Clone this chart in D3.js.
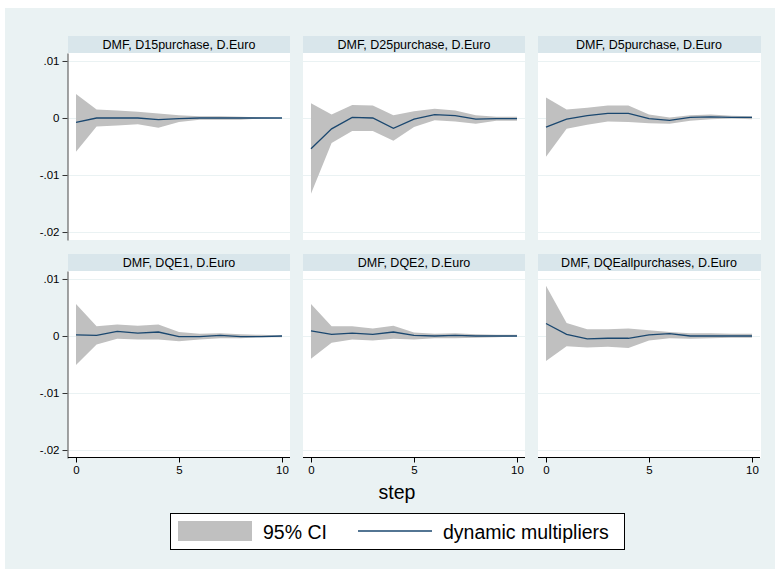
<!DOCTYPE html>
<html>
<head>
<meta charset="utf-8">
<script src="https://cdn.jsdelivr.net/npm/d3@7"></script>
<style>
  body { margin: 0; background: #fff; }
  text { font-family: "Liberation Sans", Arial, sans-serif; fill: #000; }
</style>
</head>
<body>
<div id="chart"></div>
<script>

// steps 0..10
var steps = [0, 1, 2, 3, 4, 5, 6, 7, 8, 9, 10];

var panelTitles = [
  "DMF, D15purchase, D.Euro", "DMF, D25purchase, D.Euro", "DMF, D5purchase, D.Euro",
  "DMF, DQE1, D.Euro", "DMF, DQE2, D.Euro", "DMF, DQEallpurchases, D.Euro"
];

// dynamic multipliers and 95% bounds, one array per panel
var dm_D15  = [-0.00075, 0, 0, 0, -0.0003, -0.0001, 0, 0, 0, 0, 0];
var lo_D15  = [-0.0059, -0.0015, -0.0013, -0.0011, -0.0017, -0.0007, -0.0003, -0.0003, -0.0003, -0.0001, 0];
var hi_D15  = [0.0042, 0.0015, 0.0013, 0.0011, 0.0008, 0.0005, 0.0003, 0.0003, 0.0002, 0.0001, 0];

var dm_D25  = [-0.0054, -0.0019, 0.0001, 0.0000, -0.0018, -0.0002, 0.0006, 0.0004, -0.0002, -0.0001, -0.0001];
var lo_D25  = [-0.0133, -0.0044, -0.0023, -0.0023, -0.0040, -0.0016, -0.0004, -0.0006, -0.0010, -0.0005, -0.0005];
var hi_D25  = [0.0026, 0.0006, 0.0023, 0.0022, 0.0005, 0.0012, 0.0016, 0.0013, 0.0005, 0.0002, 0.0002];

var dm_D5   = [-0.0016, -0.0002, 0.0004, 0.0008, 0.0008, -0.0001, -0.0004, 0.0001, 0.0002, 0.0001, 0.0001];
var lo_D5   = [-0.0068, -0.0019, -0.0012, -0.0006, -0.0007, -0.0009, -0.0010, -0.0005, -0.0002, -0.0001, -0.0002];
var hi_D5   = [0.0036, 0.0015, 0.0018, 0.0022, 0.0022, 0.0006, 0.0001, 0.0005, 0.0006, 0.0004, 0.0003];

var dm_QE1  = [0.0002, 0.0001, 0.0008, 0.0005, 0.0007, -0.0001, -0.0001, 0.0001, -0.0001, -0.0001, 0];
var lo_QE1  = [-0.0051, -0.0015, -0.0005, -0.0006, -0.0006, -0.0009, -0.0006, -0.0004, -0.0004, -0.0002, -0.0002];
var hi_QE1  = [0.0056, 0.0017, 0.0020, 0.0018, 0.0020, 0.0007, 0.0004, 0.0005, 0.0003, 0.0002, 0.0001];

var dm_QE2  = [0.0009, 0.0003, 0.0005, 0.0003, 0.0007, 0.0001, 0, 0.0001, 0, 0, 0];
var lo_QE2  = [-0.0040, -0.0012, -0.0006, -0.0008, -0.0005, -0.0006, -0.0004, -0.0004, -0.0003, -0.0002, -0.0001];
var hi_QE2  = [0.0056, 0.0017, 0.0017, 0.0013, 0.0018, 0.0006, 0.0004, 0.0005, 0.0003, 0.0002, 0.0002];

var dm_QEall = [0.0022, 0.0003, -0.0005, -0.0004, -0.0004, 0.0002, 0.0004, 0, 0, 0, 0];
var lo_QEall = [-0.0044, -0.0018, -0.0020, -0.0019, -0.0021, -0.0008, -0.0004, -0.0005, -0.0004, -0.0003, -0.0003];
var hi_QEall = [0.0088, 0.0023, 0.0012, 0.0012, 0.0013, 0.0010, 0.0007, 0.0005, 0.0005, 0.0004, 0.0004];

var yTicks = [0.01, 0, -0.01, -0.02];
var yTickLabels = [".01", "0", "-.01", "-.02"];
var xTicks = [0, 5, 10];

var panels = [
  {dm: dm_D15, lo: lo_D15, hi: hi_D15},
  {dm: dm_D25, lo: lo_D25, hi: hi_D25},
  {dm: dm_D5, lo: lo_D5, hi: hi_D5},
  {dm: dm_QE1, lo: lo_QE1, hi: hi_QE1},
  {dm: dm_QE2, lo: lo_QE2, hi: hi_QE2},
  {dm: dm_QEall, lo: lo_QEall, hi: hi_QEall}
];

var W = 775, H = 569;
var colX = [68, 303, 538];
var rowY = [36, 254];   // top of the title bar
var pw = 222, barH = 17, ph = 187;

var svg = d3.select("#chart").append("svg")
  .attr("width", W)
  .attr("height", H);

// graph region
svg.append("rect")
  .attr("x", 5).attr("y", 8)
  .attr("width", W - 5).attr("height", H - 8)
  .style("fill", "#eaf2f3");

var x = d3.scaleLinear().domain([0, 10]).range([8, 214]);
var y = d3.scaleLinear().domain([0.0114, -0.0214]).range([0, ph]);

panels.forEach(function(p, i) {
  var col = i % 3, row = Math.floor(i / 3);
  var g = svg.append("g")
    .attr("transform", "translate(" + colX[col] + "," + (rowY[row] + barH) + ")");

  // title bar
  svg.append("rect")
    .attr("x", colX[col]).attr("y", rowY[row])
    .attr("width", pw + (col == 2 ? 1 : 0)).attr("height", barH)
    .style("fill", "#d9e6eb");
  svg.append("text")
    .attr("x", colX[col] + pw / 2).attr("y", rowY[row] + 12.5)
    .attr("text-anchor", "middle")
    .style("font-size", "12.5px")
    .text(panelTitles[i]);

  // plot region
  g.append("rect")
    .attr("width", pw + (col == 2 ? 1 : 0)).attr("height", ph)
    .style("fill", "#fff");

  g.selectAll(".grid")
    .data(yTicks)
    .enter()
    .append("line")
    .attr("class", "grid")
    .attr("x1", 0).attr("x2", pw)
    .attr("y1", function(d) { return Math.round(y(d)) + 0.5; })
    .attr("y2", function(d) { return Math.round(y(d)) + 0.5; })
    .style("stroke", "#eaf2f3")
    .style("stroke-width", 1.2);

  var area = d3.area()
    .x(function(d) { return x(d); })
    .y0(function(d, k) { return y(p.lo[k]); })
    .y1(function(d, k) { return y(p.hi[k]); });

  g.append("path")
    .datum(steps)
    .attr("d", area)
    .style("fill", "#c0c0c0");

  var line = d3.line()
    .x(function(d) { return x(d); })
    .y(function(d, k) { return y(p.dm[k]); });

  g.append("path")
    .datum(steps)
    .attr("d", line)
    .style("fill", "none")
    .style("stroke", "#1a476f")
    .style("stroke-width", 1.3);

  // y axis on the first column
  if (col == 0) {
    var ya = g.append("g").attr("transform", "translate(-0.5,0)")
      .call(d3.axisLeft(y).tickValues(yTicks).tickSize(5).tickSizeOuter(0)
        .tickFormat(function(d, k) { return yTickLabels[k]; }));
    ya.select(".domain").style("stroke", "#666").style("stroke-width", 1.2);
    ya.selectAll(".tick line").style("stroke", "#333");
    ya.selectAll(".tick text")
      .attr("x", -8)
      .style("font-family", "Liberation Sans, Arial, sans-serif")
      .style("font-size", "11.5px")
      .style("fill", "#000");
  }

  // x axis on the bottom row
  if (row == 1) {
    var xa = g.append("g").attr("transform", "translate(0," + (ph - 0.5) + ")")
      .call(d3.axisBottom(x).tickValues(xTicks).tickSize(5).tickSizeOuter(0));
    xa.select(".domain").attr("d", "M0,0H" + pw).style("stroke", "#000");
    xa.selectAll(".tick line").style("stroke", "#000");
    xa.selectAll(".tick text")
      .attr("y", 8)
      .style("font-family", "Liberation Sans, Arial, sans-serif")
      .style("font-size", "11.5px")
      .style("fill", "#000");
  }
});

// x axis title
svg.append("text")
  .attr("x", 397).attr("y", 499)
  .attr("text-anchor", "middle")
  .style("font-size", "19.5px")
  .text("step");

// legend
var leg = svg.append("g");
leg.append("rect")
  .attr("x", 170.5).attr("y", 513.5)
  .attr("width", 454).attr("height", 36)
  .style("fill", "#fff")
  .style("stroke", "#000")
  .style("stroke-width", 1);
leg.append("rect")
  .attr("x", 178).attr("y", 521)
  .attr("width", 74).attr("height", 20)
  .style("fill", "#c0c0c0");
leg.append("text")
  .attr("x", 263).attr("y", 538.5)
  .style("font-size", "19.5px")
  .text("95% CI");
leg.append("line")
  .attr("x1", 358).attr("x2", 432)
  .attr("y1", 531).attr("y2", 531)
  .style("stroke", "#1a476f")
  .style("stroke-width", 1.5);
leg.append("text")
  .attr("x", 443).attr("y", 538.5)
  .style("font-size", "19.5px")
  .text("dynamic multipliers");

</script>
</body>
</html>
